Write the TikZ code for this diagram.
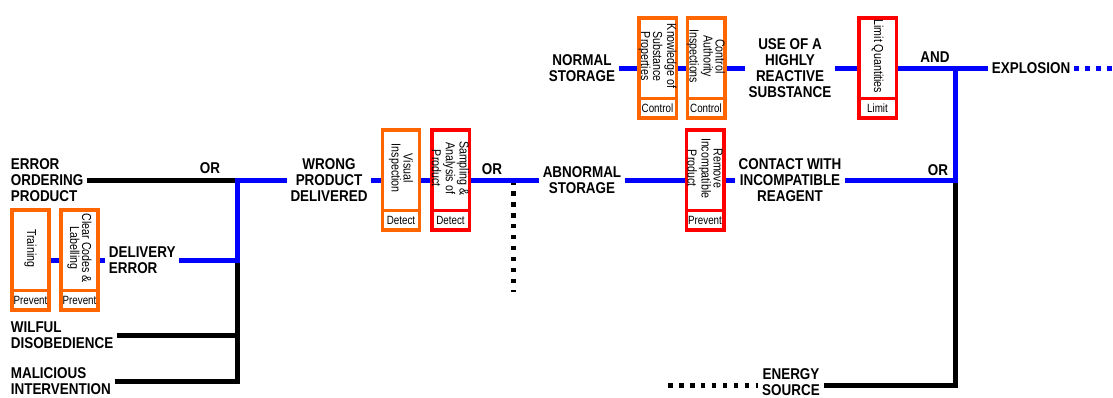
\documentclass[tikz,border=0pt]{standalone}
\usepackage{fontspec}
\setmainfont{Liberation Sans}
\newfontfamily\narrowfont{Liberation Sans}[FakeStretch=0.86]
\newfontfamily\condfont{Liberation Sans}[FakeStretch=0.82]
\usetikzlibrary{calc}
\definecolor{ftblue}{RGB}{0,0,255}
\definecolor{ftorange}{RGB}{255,102,0}
\definecolor{ftred}{RGB}{255,0,0}

\begin{document}
\begin{tikzpicture}[x=0.02cm, y=-0.02cm,
    lbl/.style={font=\narrowfont\bfseries\fontsize{8.9}{9.1}\selectfont, align=center, inner sep=2pt},
    lbll/.style={lbl, align=left, anchor=west},
    box/.style={draw=#1, line width=0.07cm, minimum width=0.75cm, minimum height=2.01cm, inner sep=0pt},
    tag/.style={draw=#1, line width=0.07cm, minimum width=0.75cm, minimum height=0.4cm, inner sep=0pt, anchor=south,
      font=\condfont\fontsize{6.8}{7}\selectfont},
    vtxt/.style={rotate=-90, align=center, inner sep=0pt, font=\condfont\fontsize{7.4}{6.8}\selectfont},
    blu/.style={draw=ftblue, line width=0.1cm},
    blk/.style={draw=black, line width=0.1cm},
    dotline/.style={dash pattern=on 0.09cm off 0.13cm}]
  \useasboundingbox (0,0) rectangle (1113,397);

  % causes of a wrong delivery
  \node[lbll] (errOrd) at (7,180) {ERROR\\ORDERING\\PRODUCT};
  \node[box=ftorange] (train) at (30.5,260) {};
  \node[tag=ftorange] (trainTag) at (train.south) {Prevent};
  \node[vtxt] (trainTxt) at ($(train.north)!.5!(trainTag.north)$) {Training};
  \node[box=ftorange] (clear) at (79.5,260) {};
  \node[tag=ftorange] (clearTag) at (clear.south) {Prevent};
  \node[vtxt] (clearTxt) at ($(clear.north)!.5!(clearTag.north)$) {Clear Codes \&\\Labelling};
  \node[lbll] (delErr) at (105,260) {DELIVERY\\ERROR};
  \node[lbll] (wilful) at (7,335) {WILFUL\\DISOBEDIENCE};
  \node[lbll] (malic) at (7,381) {MALICIOUS\\INTERVENTION};
  \coordinate (or1) at (237,180);
  \node[lbl] (orTxtA) at (210,168) {OR};

  % wrong product -> abnormal storage
  \node[lbl] (wrong) at (329,180) {WRONG\\PRODUCT\\DELIVERED};
  \node[box=ftorange] (vis) at (401,180) {};
  \node[tag=ftorange] (visTag) at (vis.south) {Detect};
  \node[vtxt] (visTxt) at ($(vis.north)!.5!(visTag.north)$) {Visual\\Inspection};
  \node[box=ftred] (samp) at (450.5,180) {};
  \node[tag=ftred] (sampTag) at (samp.south) {Detect};
  \node[vtxt] (sampTxt) at ($(samp.north)!.5!(sampTag.north)$) {Sampling \&\\Analysis of\\Product};
  \coordinate (or2) at (513,180);
  \coordinate (or2End) at (513,292);
  \node[lbl] (orTxtB) at (492,169) {OR};
  \node[lbl] (abn) at (582,180) {ABNORMAL\\STORAGE};
  \node[box=ftred] (rem) at (705,180) {};
  \node[tag=ftred] (remTag) at (rem.south) {Prevent};
  \node[vtxt] (remTxt) at ($(rem.north)!.5!(remTag.north)$) {Remove\\Incompatible\\Product};
  \node[lbl] (contact) at (790,180) {CONTACT WITH\\INCOMPATIBLE\\REAGENT};
  \coordinate (or3) at (955,180);
  \node[lbl] (orTxtC) at (938,170) {OR};

  % normal storage -> explosion
  \node[lbl] (normal) at (582,68) {NORMAL\\STORAGE};
  \node[box=ftorange] (know) at (657.5,68) {};
  \node[tag=ftorange] (knowTag) at (know.south) {Control};
  \node[vtxt] (knowTxt) at ($(know.north)!.5!(knowTag.north)$) {Knowledge of\\Substance\\Properties};
  \node[box=ftorange] (ctrl) at (706,68) {};
  \node[tag=ftorange] (ctrlTag) at (ctrl.south) {Control};
  \node[vtxt] (ctrlTxt) at ($(ctrl.north)!.5!(ctrlTag.north)$) {Control\\Authority\\Inspections};
  \node[lbl] (use) at (790,68) {USE OF A\\HIGHLY\\REACTIVE\\SUBSTANCE};
  \node[box=ftred] (lim) at (877.5,68) {};
  \node[tag=ftred] (limTag) at (lim.south) {Limit};
  \node[vtxt] (limTxt) at ($(lim.north)!.5!(limTag.north)$) {Limit Quantities};
  \coordinate (and1) at (955,68);
  \node[lbl] (andTxt) at (935,57) {AND};
  \node[lbll] (explo) at (988,68) {EXPLOSION};
  \coordinate (more) at (1113,68);

  \node[lbl] (energy) at (791,382) {ENERGY\\SOURCE};
  \coordinate (energyDots) at (668,385);

  % black branches first, blue path on top
  \draw[blk] (errOrd) -- (or1);
  \draw[blk] (wilful) -- (wilful -| or1);
  \draw[blk] (malic) -| (delErr -| or1);
  \draw[blk, dotline] (or2) -- (or2End);
  \draw[blk, dotline] (energyDots) -- (energyDots -| energy.west);
  \draw[blk] (energy.east |- energyDots) -| (or3);
  \draw[blu] (train) -- (clear) -- (delErr);
  \draw[blu] (delErr) -| (or1) -- (wrong) -- (vis) -- (samp) -- (abn) -- (rem) -- (contact) -- (or3) -- (and1);
  \draw[blu] (normal) -- (know) -- (ctrl) -- (use) -- (lim) -- (explo);
  \draw[blu, dotline] (explo) -- (more);
\end{tikzpicture}
\end{document}
